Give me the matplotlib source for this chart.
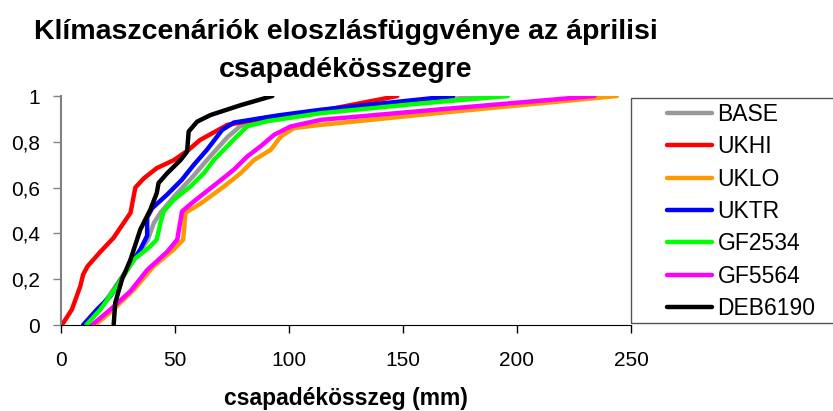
import matplotlib
matplotlib.use("Agg")
import matplotlib.pyplot as plt
from matplotlib.patches import Rectangle
from matplotlib.ticker import FuncFormatter

plt.rcParams["font.family"] = ["Liberation Sans", "DejaVu Sans"]

# Cumulative distributions (precipitation mm, probability)
base_x = [10.7, 17.0, 24.0, 31.5, 38.0, 40.7, 43.6, 49.5, 58.0, 64.0, 73.0, 78.8, 95.0, 114.0, 150.0, 184.6]
base_y = [0.0, 0.068, 0.17, 0.28, 0.37, 0.445, 0.49, 0.56, 0.65, 0.72, 0.82, 0.87, 0.90, 0.93, 0.965, 1.0]

ukhi_x = [0.4, 4.8, 8.5, 9.7, 11.7, 17.3, 23.0, 30.5, 32.6, 36.3, 42.0, 49.5, 56.0, 61.0, 73.0, 90.0, 114.0, 147.5]
ukhi_y = [0.0, 0.068, 0.17, 0.22, 0.257, 0.32, 0.38, 0.49, 0.60, 0.64, 0.685, 0.72, 0.765, 0.808, 0.874, 0.905, 0.935, 1.0]

uklo_x = [15.0, 23.0, 32.0, 40.7, 49.5, 53.6, 54.6, 61.2, 71.5, 78.8, 84.6, 92.0, 96.4, 102.2, 114.0, 170.0, 243.8]
uklo_y = [0.0, 0.068, 0.155, 0.257, 0.33, 0.373, 0.49, 0.53, 0.605, 0.663, 0.72, 0.765, 0.823, 0.86, 0.874, 0.93, 1.0]

uktr_x = [9.7, 15.8, 21.7, 29.0, 34.8, 37.8, 37.8, 40.0, 46.6, 53.0, 58.3, 64.0, 70.7, 75.8, 95.0, 114.0, 172.0]
uktr_y = [0.0, 0.068, 0.126, 0.24, 0.33, 0.39, 0.47, 0.51, 0.57, 0.634, 0.70, 0.765, 0.852, 0.884, 0.915, 0.94, 1.0]

gf2534_x = [11.1, 17.3, 24.6, 32.0, 39.2, 42.0, 43.6, 45.0, 49.5, 56.8, 62.7, 67.0, 75.8, 81.7, 90.5, 114.0, 155.0, 196.0]
gf2534_y = [0.0, 0.068, 0.17, 0.286, 0.344, 0.373, 0.445, 0.495, 0.547, 0.605, 0.663, 0.72, 0.81, 0.868, 0.89, 0.925, 0.965, 1.0]

gf5564_x = [13.6, 21.7, 30.5, 37.8, 46.6, 51.0, 53.1, 58.3, 68.5, 75.8, 81.7, 87.5, 93.4, 100.7, 114.0, 170.0, 234.0]
gf5564_y = [0.0, 0.068, 0.148, 0.24, 0.32, 0.373, 0.496, 0.54, 0.62, 0.678, 0.736, 0.78, 0.83, 0.867, 0.896, 0.945, 1.0]

deb6190_x = [23.1, 23.8, 26.8, 30.5, 34.8, 39.2, 42.0, 42.8, 46.6, 52.4, 55.3, 56.0, 59.7, 65.6, 78.8, 92.7]
deb6190_y = [0.0, 0.097, 0.2, 0.286, 0.417, 0.504, 0.576, 0.62, 0.663, 0.72, 0.757, 0.845, 0.888, 0.917, 0.96, 1.0]

series = [
    ("BASE", base_x, base_y, "#999999"),
    ("UKHI", ukhi_x, ukhi_y, "#ff0000"),
    ("UKLO", uklo_x, uklo_y, "#ff9900"),
    ("UKTR", uktr_x, uktr_y, "#0000ff"),
    ("GF2534", gf2534_x, gf2534_y, "#00ff00"),
    ("GF5564", gf5564_x, gf5564_y, "#ff00ff"),
    ("DEB6190", deb6190_x, deb6190_y, "#000000"),
]

fig = plt.figure(figsize=(8.33, 4.11), dpi=100)
ax = fig.add_axes([0.0732, 0.2092, 0.6843, 0.5572])

for name, xs, ys, col in series:
    ax.plot(xs, ys, color=col, lw=3.2, label=name, solid_capstyle="round", solid_joinstyle="round")

ax.set_xlim(0, 250)
ax.set_ylim(0, 1)
ax.set_xticks([0, 50, 100, 150, 200, 250])
ax.set_yticks([0, 0.2, 0.4, 0.6, 0.8, 1.0])
ax.yaxis.set_major_formatter(FuncFormatter(lambda v, p: f"{v:g}".replace(".", ",")))

ax.spines["top"].set_visible(False)
ax.spines["right"].set_visible(False)
ax.spines["left"].set_color("#808080")
ax.spines["left"].set_linewidth(1.5)
ax.spines["bottom"].set_color("black")
ax.tick_params(axis="x", direction="out", length=6, width=1, pad=13, labelsize=15)
ax.tick_params(axis="y", direction="out", length=6, width=1, color="#808080", pad=9, labelsize=15)

ax.set_xlabel("csapadékösszeg (mm)", fontsize=16.5, fontweight="bold", labelpad=12)
ax.set_title("Klímaszcenáriók eloszlásfüggvénye az áprilisi\ncsapadékösszegre",
             fontsize=20.5, fontweight="bold", pad=13.5, linespacing=1.59)

# legend frame, runs off the right edge like the reference
fig.add_artist(Rectangle((0.7575, 0.2141), 0.3, 0.5474, transform=fig.transFigure,
                         fill=False, edgecolor="#555555", lw=1))
fig.legend(loc="upper left", bbox_to_anchor=(0.8007, 0.75), frameon=False,
           fontsize=16.5, handlelength=1.95, handletextpad=0.25, labelspacing=0.41,
           borderpad=0, borderaxespad=0)

fig.savefig("out.png", dpi=100)
